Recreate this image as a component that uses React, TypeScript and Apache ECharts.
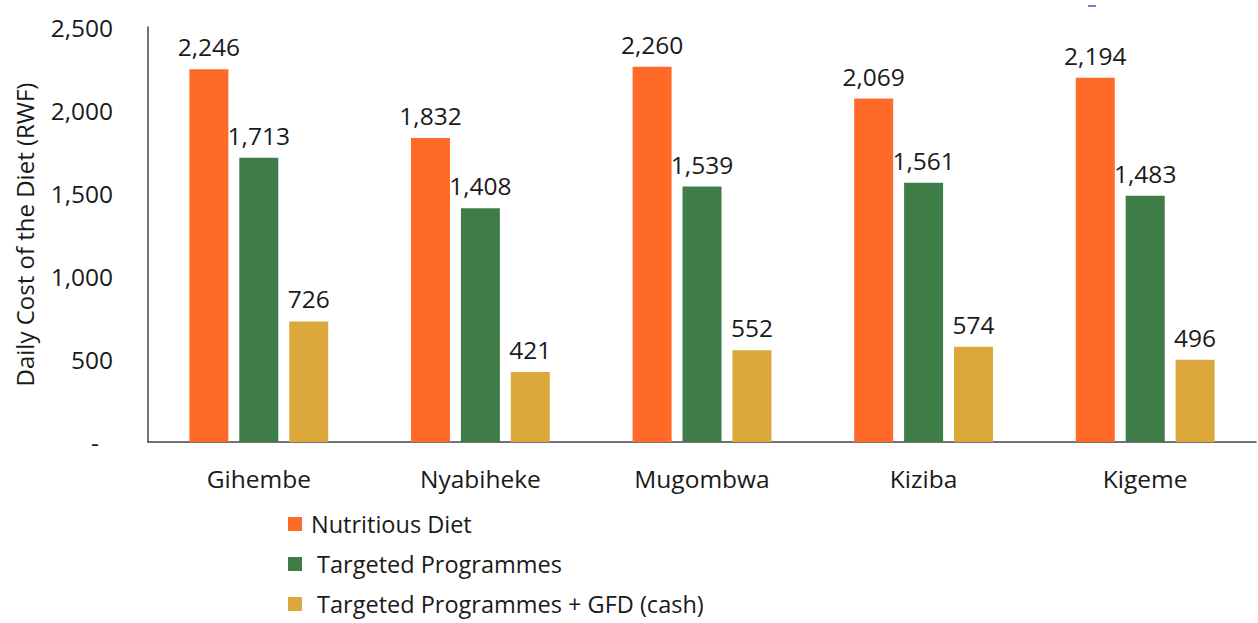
import React, { useEffect, useRef } from "react";
import * as echarts from "echarts";

const categories = ["Gihembe", "Nyabiheke", "Mugombwa", "Kiziba", "Kigeme"];
const nutritiousDiet = [2246, 1832, 2260, 2069, 2194];
const targetedProgrammes = [1713, 1408, 1539, 1561, 1483];
const targetedPlusGfd = [726, 421, 552, 574, 496];
const seriesNames = [
  "Nutritious Diet",
  "\u00a0Targeted Programmes",
  "\u00a0Targeted Programmes + GFD (cash)",
];
const colors = ["#FF6A28", "#3E7D47", "#DDA83B"];
const FONT = "'Open Sans', sans-serif";

export default function App() {
  const ref = useRef<HTMLDivElement>(null);
  useEffect(() => {
    if (!ref.current) return;
    const chart = echarts.init(ref.current, null, { renderer: "svg" });
    const fmt = (v: number) => v.toLocaleString("en-US");
    const label = {
      show: true,
      position: "top" as const,
      distance: 10,
      fontFamily: FONT,
      fontSize: 24.5,
      color: "#1a1a1a",
      formatter: (p: any) => fmt(p.value),
    };
    const data = [nutritiousDiet, targetedProgrammes, targetedPlusGfd];
    chart.setOption({
      animation: false,
      textStyle: { fontFamily: FONT },
      grid: { left: 148, right: 2, top: 27, bottom: 181, containLabel: false },
      legend: {
        orient: "vertical",
        left: 283,
        top: 507,
        height: 140,
        icon: "rect",
        itemWidth: 14,
        itemHeight: 14,
        itemGap: 16,
        textStyle: { fontFamily: FONT, fontSize: 23.5, color: "#1a1a1a", padding: [0, 0, 0, 4] },
        data: seriesNames,
      },
      xAxis: {
        type: "category",
        data: categories,
        axisLine: { lineStyle: { color: "#444", width: 1.5 } },
        axisTick: { show: false },
        axisLabel: { fontFamily: FONT, fontSize: 24.5, color: "#1a1a1a", margin: 24 },
      },
      yAxis: {
        type: "value",
        min: 0,
        max: 2500,
        interval: 500,
        name: "Daily Cost of the Diet (RWF)",
        nameLocation: "middle",
        nameGap: 112,
        nameTextStyle: { fontFamily: FONT, fontSize: 24, color: "#1a1a1a" },
        axisLine: { show: true, lineStyle: { color: "#444", width: 1.5 } },
        axisTick: { show: false },
        splitLine: { show: false },
        axisLabel: {
          fontFamily: FONT,
          fontSize: 24.5,
          color: "#1a1a1a",
          margin: 35,
          formatter: (v: number) => (v === 0 ? "{z|-}" : fmt(v)),
          rich: { z: { fontFamily: FONT, fontSize: 24.5, color: "#1a1a1a", padding: [0, 14, 0, 0] } },
        },
      },
      graphic: [
        {
          type: "line",
          shape: { x1: 1088, y1: 6, x2: 1096, y2: 6 },
          style: { stroke: "#3a5aa8", lineWidth: 1.5 },
        },
      ],
      series: data.map((d, i) => ({
        name: seriesNames[i],
        type: "bar",
        data: d,
        barWidth: 39,
        barGap: "28%",
        itemStyle: { color: colors[i] },
        label,
      })),
    });
    return () => chart.dispose();
  }, []);
  return (
    <div
      ref={ref}
      style={{ position: "absolute", left: 0, top: 0, width: 1258, height: 623, background: "#fff" }}
    />
  );
}
